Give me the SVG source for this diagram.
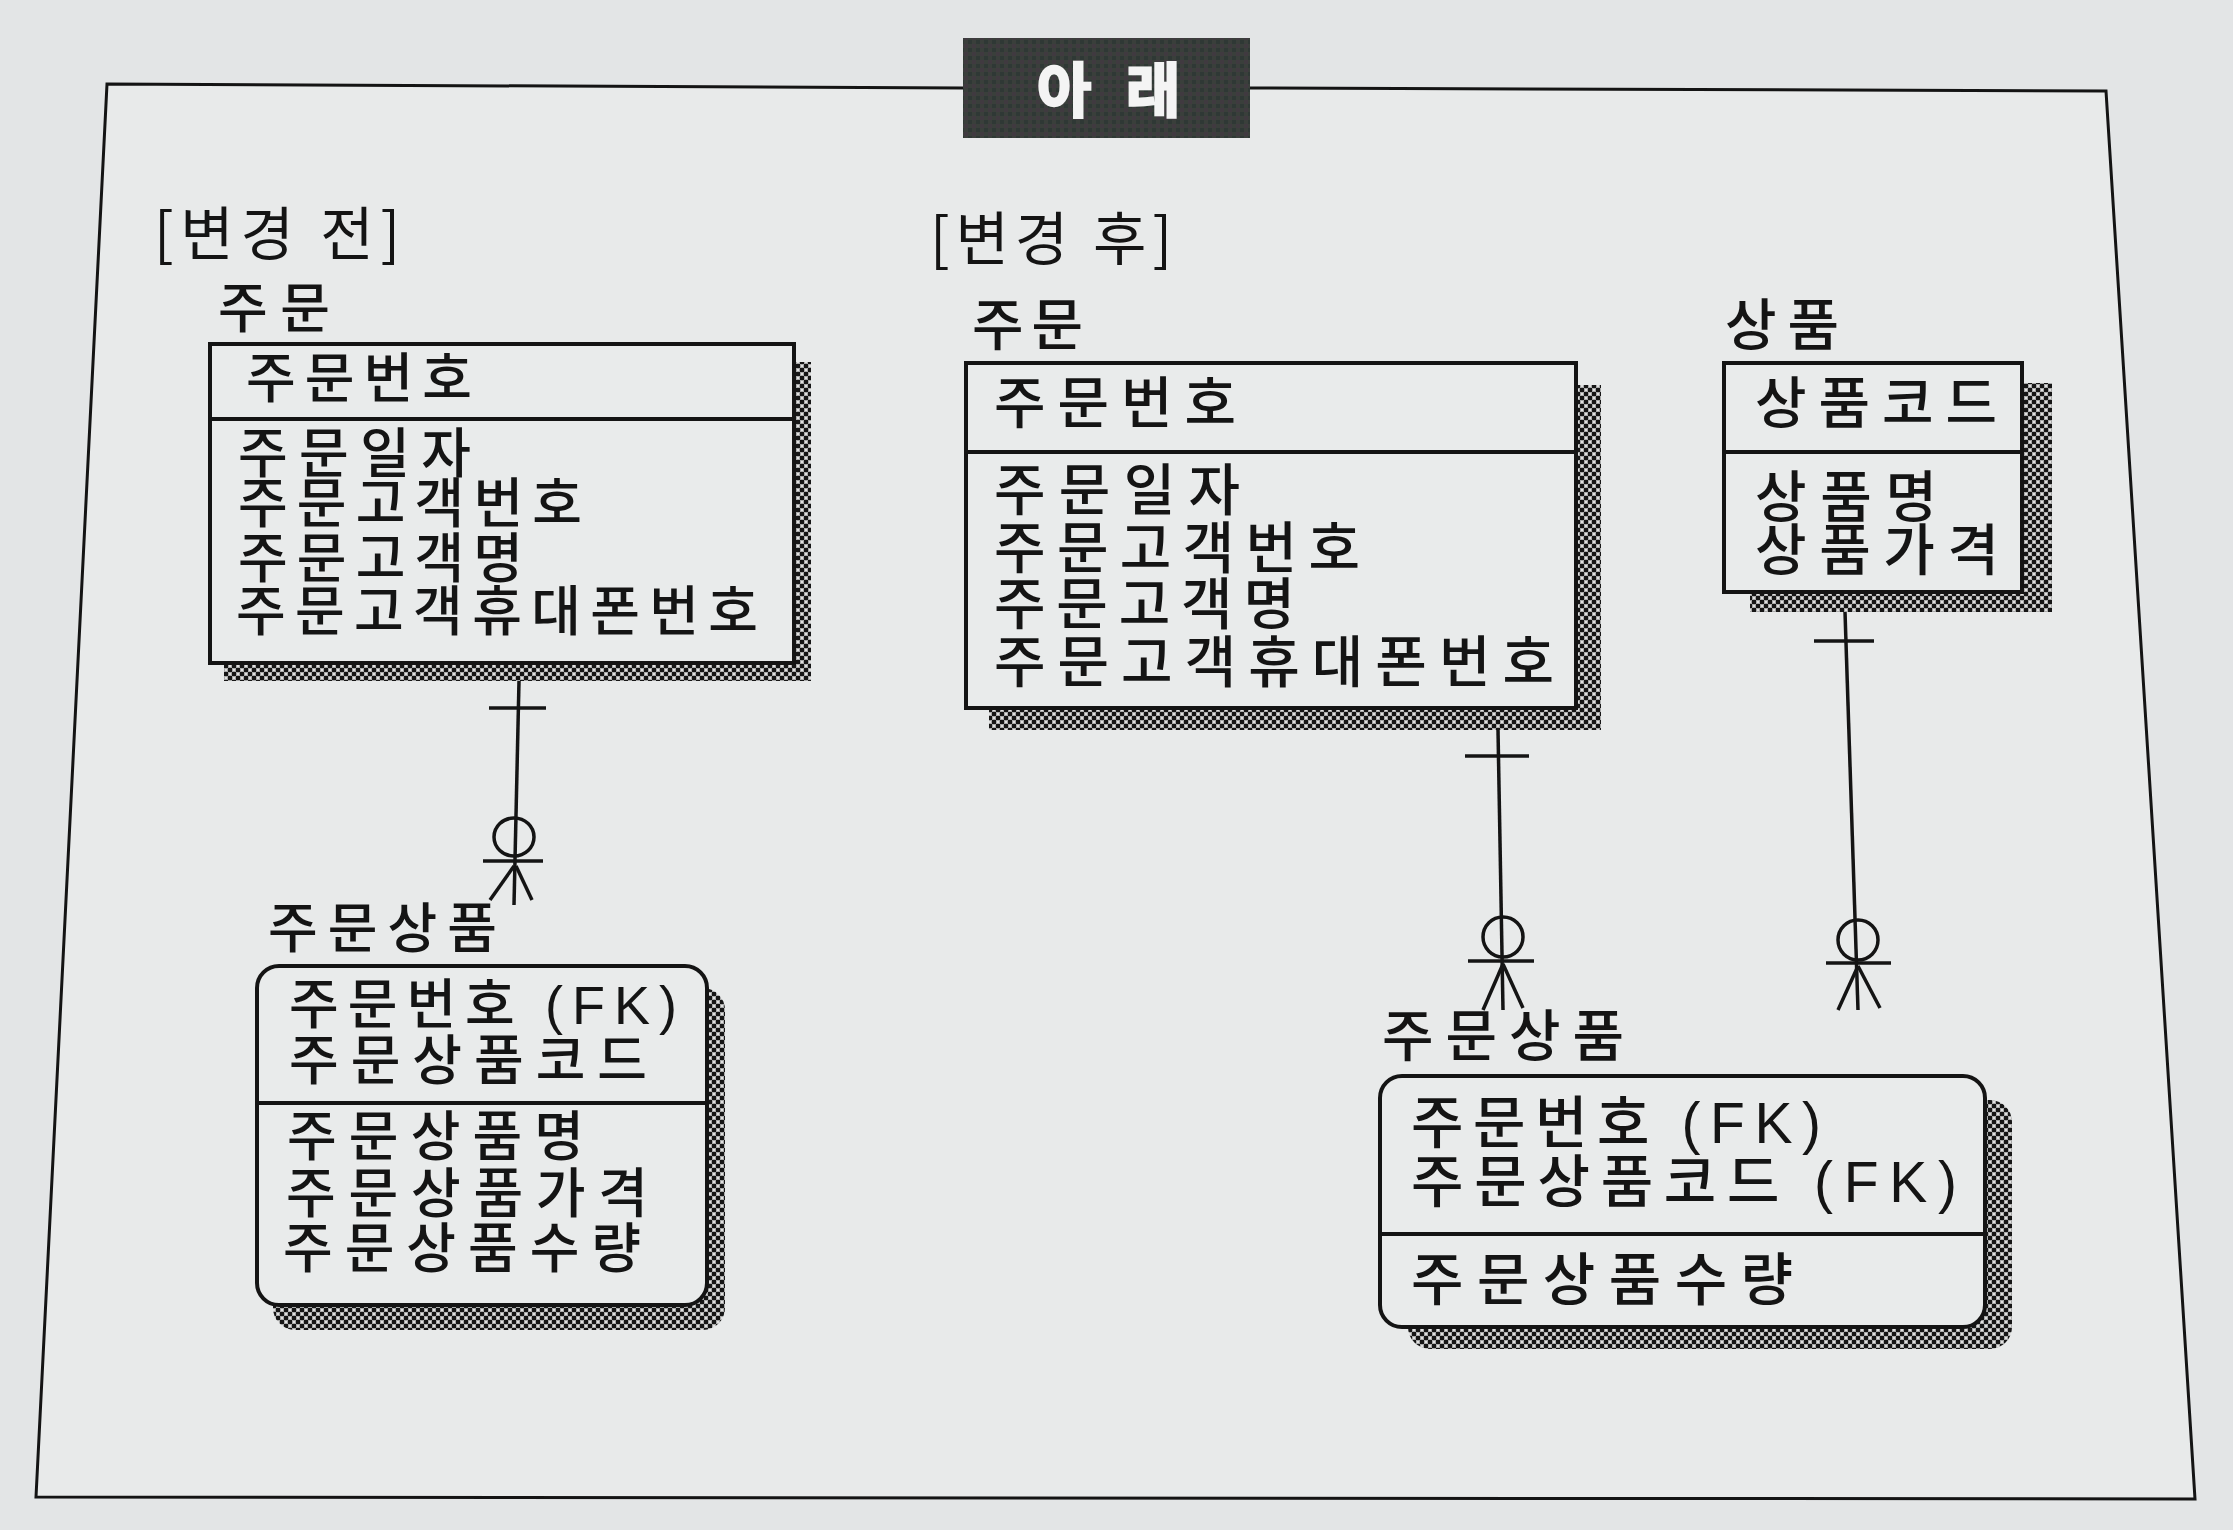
<svg xmlns="http://www.w3.org/2000/svg" width="2233" height="1530" viewBox="0 0 2233 1530">
<style>
.t{font-family:"Noto Sans CJK KR","Noto Sans",sans-serif;font-size:54px;font-weight:500;fill:#141414;}
.t56{font-size:56px;}
.t57{font-size:57px;}
.fk{font-family:"Liberation Sans",Arial,sans-serif;font-weight:400;}
.box{fill:#e9ebeb;stroke:#141414;stroke-width:4;}
.div{stroke:#141414;stroke-width:4;fill:none;}
.sh{fill:url(#dither);}
.ln{stroke:#141414;stroke-width:3.5;fill:none;}
</style>
<defs>
<pattern id="dither" width="8" height="8" patternUnits="userSpaceOnUse">
<rect width="8" height="8" fill="#a9aaaa"/>
<rect width="4" height="4" fill="#161616"/>
<rect x="4" y="4" width="4" height="4" fill="#161616"/>
<rect x="1" y="5" width="2" height="2" fill="#e0e0e0"/>
<rect x="5" y="1" width="2" height="2" fill="#e0e0e0"/>
</pattern>
<pattern id="dark" width="8" height="8" patternUnits="userSpaceOnUse">
<rect width="8" height="8" fill="#3a3f3b"/>
<rect width="4" height="4" fill="#2f3835"/>
<rect x="4" y="4" width="4" height="4" fill="#403a40"/>
</pattern>
</defs>

<rect width="2233" height="1530" fill="#e3e5e6"/>

<g id="frame">
<polygon points="107,84 2106,91 2195,1499 36,1497" fill="#e8eaea"/>
<polyline points="963,88 107,84 36,1497 2195,1499 2106,91 1250,88" fill="none" stroke="#141414" stroke-width="3"/>
</g>

<g id="title">
<rect x="963" y="38" width="287" height="100" fill="url(#dark)"/>
<text class="t" y="112" style="font-size:59px;font-weight:700;fill:#f4f4f4;stroke:#f4f4f4;stroke-width:2.5"><tspan x="1037">아</tspan> <tspan x="1126">래</tspan></text>
</g>

<g id="headers">
<text x="154" y="255" class="t" style="font-size:58px;font-weight:400" textLength="246" lengthAdjust="spacing">[변경 전]</text>
<text x="930" y="260" class="t" style="font-size:58px;font-weight:400" textLength="242" lengthAdjust="spacing">[변경 후]</text>
</g>

<g id="connectors">
<line class="ln" x1="519" y1="681" x2="514" y2="905"/>
<line class="ln" x1="489" y1="708" x2="546" y2="708"/>
<ellipse class="ln" cx="514" cy="837" rx="20" ry="19"/>
<line class="ln" x1="483" y1="861" x2="543" y2="861"/>
<line class="ln" x1="514" y1="866" x2="490" y2="900"/>
<line class="ln" x1="516" y1="866" x2="532" y2="900"/>
<line class="ln" x1="1498" y1="730" x2="1503" y2="1010"/>
<line class="ln" x1="1465" y1="756" x2="1529" y2="756"/>
<ellipse class="ln" cx="1503" cy="937" rx="20" ry="20"/>
<line class="ln" x1="1468" y1="961" x2="1534" y2="961"/>
<line class="ln" x1="1503" y1="964" x2="1483" y2="1010"/>
<line class="ln" x1="1503" y1="964" x2="1523" y2="1008"/>
<line class="ln" x1="1845" y1="612" x2="1858" y2="1010"/>
<line class="ln" x1="1814" y1="641" x2="1874" y2="641"/>
<ellipse class="ln" cx="1858" cy="940" rx="20" ry="20"/>
<line class="ln" x1="1826" y1="963" x2="1891" y2="963"/>
<line class="ln" x1="1858" y1="966" x2="1838" y2="1010"/>
<line class="ln" x1="1858" y1="966" x2="1880" y2="1008"/>
</g>

<g id="order-before">
<text x="218" y="328" class="t" textLength="112" lengthAdjust="spacing">주문</text>
<rect class="sh" x="224" y="362" width="587" height="319"/>
<rect class="box" x="210" y="344" width="584" height="319"/>
<line class="div" x1="210" y1="419" x2="794" y2="419"/>
<text x="246" y="398" class="t" textLength="226" lengthAdjust="spacing">주문번호</text>
<text x="238" y="473" class="t" textLength="233" lengthAdjust="spacing">주문일자</text>
<text x="238" y="523" class="t" textLength="344" lengthAdjust="spacing">주문고객번호</text>
<text x="238" y="578" class="t" textLength="285" lengthAdjust="spacing">주문고객명</text>
<text x="236" y="631" class="t" textLength="522" lengthAdjust="spacing">주문고객휴대폰번호</text>
</g>

<g id="orderitem-before">
<text x="268" y="948" class="t" textLength="229" lengthAdjust="spacing">주문상품</text>
<rect class="sh" x="273" y="988" width="452" height="342" rx="22"/>
<rect class="box" x="257" y="966" width="450" height="339" rx="22"/>
<line class="div" x1="257" y1="1103" x2="707" y2="1103"/>
<text x="289" y="1024" class="t" textLength="388" lengthAdjust="spacing">주문번호 <tspan class="fk">(FK)</tspan></text>
<text x="289" y="1080" class="t" textLength="358" lengthAdjust="spacing">주문상품코드</text>
<text x="287" y="1156" class="t" textLength="297" lengthAdjust="spacing">주문상품명</text>
<text x="286" y="1213" class="t" textLength="362" lengthAdjust="spacing">주문상품가격</text>
<text x="283" y="1268" class="t" textLength="358" lengthAdjust="spacing">주문상품수량</text>
</g>

<g id="order-after">
<text x="972" y="345" class="t t56" textLength="111" lengthAdjust="spacing">주문</text>
<rect class="sh" x="989" y="385" width="612" height="345"/>
<rect class="box" x="966" y="363" width="610" height="345"/>
<line class="div" x1="966" y1="452" x2="1576" y2="452"/>
<text x="994" y="423" class="t t56" textLength="242" lengthAdjust="spacing">주문번호</text>
<text x="994" y="510" class="t t56" textLength="246" lengthAdjust="spacing">주문일자</text>
<text x="994" y="568" class="t t56" textLength="366" lengthAdjust="spacing">주문고객번호</text>
<text x="994" y="624" class="t t56" textLength="301" lengthAdjust="spacing">주문고객명</text>
<text x="994" y="682" class="t t56" textLength="560" lengthAdjust="spacing">주문고객휴대폰번호</text>
</g>

<g id="product">
<text x="1725" y="345" class="t t56" textLength="114" lengthAdjust="spacing">상품</text>
<rect class="sh" x="1750" y="383" width="302" height="229"/>
<rect class="box" x="1724" y="363" width="298" height="229"/>
<line class="div" x1="1724" y1="452" x2="2022" y2="452"/>
<text x="1755" y="423" class="t t56" textLength="242" lengthAdjust="spacing">상품코드</text>
<text x="1755" y="517" class="t t56" textLength="182" lengthAdjust="spacing">상품명</text>
<text x="1755" y="570" class="t t56" textLength="244" lengthAdjust="spacing">상품가격</text>
</g>

<g id="orderitem-after">
<text x="1382" y="1056" class="t t56" textLength="242" lengthAdjust="spacing">주문상품</text>
<rect class="sh" x="1408" y="1100" width="604" height="249" rx="22"/>
<rect class="box" x="1380" y="1076" width="605" height="251" rx="22"/>
<line class="div" x1="1380" y1="1234" x2="1985" y2="1234"/>
<text x="1411" y="1143" class="t t57" textLength="410" lengthAdjust="spacing">주문번호 <tspan class="fk">(FK)</tspan></text>
<text x="1411" y="1202" class="t t57" textLength="546" lengthAdjust="spacing">주문상품코드 <tspan class="fk">(FK)</tspan></text>
<text x="1411" y="1300" class="t t57" textLength="382" lengthAdjust="spacing">주문상품수량</text>
</g>
</svg>
